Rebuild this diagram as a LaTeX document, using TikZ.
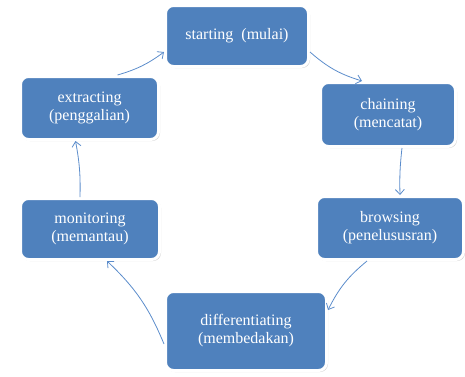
\documentclass[tikz,border=0pt]{standalone}
\usepackage{fontspec}
\setmainfont{Liberation Serif}
\usetikzlibrary{arrows.meta,shadows}
\definecolor{boxblue}{HTML}{4F81BD}
\definecolor{arrblue}{HTML}{5B8CCB}
\begin{document}
\begin{tikzpicture}[x=1pt,y=-1pt,
  box/.style={rectangle, rounded corners=8pt, fill=boxblue, draw=white, line width=3pt,
    text=white, align=center, font=\fontsize{16}{18}\selectfont, inner sep=2pt,
    drop shadow={opacity=0.35, shadow xshift=1.5pt, shadow yshift=-1.5pt}},
  conn/.style={draw=arrblue, line width=0.8pt, -{Straight Barb[length=5pt,width=9pt]}}]
\useasboundingbox (0,0) rectangle (465,376);
\node[box, minimum width=143pt, minimum height=61pt] (st) at (237,36) {starting\ \ (mulai)};
\node[box, minimum width=138pt, minimum height=63pt] (ext) at (89.5,108) {extracting\\(penggalian)};
\node[box, minimum width=139pt, minimum height=61pt] (mon) at (90,229) {monitoring\\(memantau)};
\node[box, minimum width=135pt, minimum height=64pt] (ch) at (388,114.5) {chaining\\(mencatat)};
\node[box, minimum width=147pt, minimum height=63pt] (br) at (390,228) {browsing\\(penelususran)};
\node[box, minimum width=161pt, minimum height=79pt] (df) at (246,331) {differentiating\\(membedakan)};
\draw[conn] ([xshift=28pt]ext.north) to[bend right=10] ([yshift=-16pt]st.west);
\draw[conn] ([yshift=-16pt]st.east) to[bend right=12] ([xshift=-26pt]ch.north);
\draw[conn] ([xshift=14pt]ch.south) to[bend right=4] ([xshift=10pt]br.north);
\draw[conn] ([xshift=-23pt]br.south) to[bend right=12] ([yshift=21pt]df.east);
\draw[conn] ([yshift=-13pt]df.west) to[bend right=12] ([xshift=17pt]mon.south);
\draw[conn] ([xshift=-10pt]mon.north) to[bend right=6] ([xshift=-14pt]ext.south);
\end{tikzpicture}
\end{document}
